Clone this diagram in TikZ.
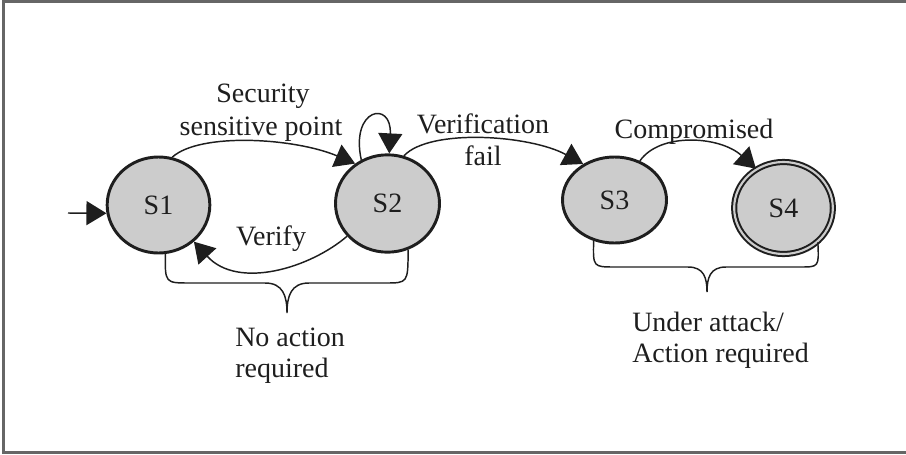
\documentclass[tikz,border=0pt]{standalone}
\usepackage{fontspec}
\setmainfont{Liberation Serif}
\usetikzlibrary{shapes.geometric,arrows.meta}
\definecolor{statefill}{HTML}{CCCCCC}
\definecolor{ink}{HTML}{1E1E1E}
\definecolor{framegray}{HTML}{666666}
\begin{document}
\begin{tikzpicture}[x=0.75pt,y=-0.75pt,
  lbl/.style={font=\fontsize{21}{24.5}\selectfont, text=ink, inner sep=0pt},
  state/.style={ellipse, draw=ink, fill=statefill, line width=2.2pt, inner sep=0pt,
    font=\fontsize{21}{24.5}\selectfont, text=ink},
  final/.style={state, line width=1.5pt, double=statefill, double distance=1.6pt},
  edge/.style={draw=ink, line width=1.1pt, -{Triangle[length=15pt,width=18pt]}},
  brace/.style={draw=ink, line width=1.1pt}]
\useasboundingbox (0,0) rectangle (906,454);
% frame
\draw[framegray, line width=1.6pt] (906,1.5) -- (3.5,1.5) -- (3.5,452.5) -- (906,452.5);

% states
\node[state, minimum width=77pt, minimum height=72pt] (s1) at (158.5,205) {S1};
\node[state, minimum width=78pt, minimum height=73pt] (s2) at (387.5,203.5) {S2};
\node[state, minimum width=78pt, minimum height=64.5pt] (s3) at (614.5,200) {S3};
\node[final, minimum width=74pt, minimum height=69pt] (s4) at (783.5,208) {S4};

% transitions
\coordinate (init) at (68,213);
\draw[edge] (init) -- (s1.189);
\draw[edge] (s1.74) .. controls (200,132) and (295,138) .. (s2.129);
\draw[edge] (s2.121) .. controls (350,108) and (392,100) .. (s2.88);
\draw[edge] (s2.71) .. controls (430,128) and (530,135) .. (s3.131);
\draw[edge] (s3.57) .. controls (660,132) and (720,136) .. (s4.125);
\draw[edge] (s2.219) .. controls (310,268) and (238,290) .. (s1.314);

% braces grouping the states
\draw[brace] (s1.278) .. controls (165,283) and (165,283) .. (190,283) -- (265,283)
  .. controls (283,283) and (287,296) .. (287,313)
  .. controls (287,296) and (291,283) .. (309,283) -- (385,283)
  .. controls (408,283) and (408,283) .. (s2.294);
\draw[brace] (s3.243) .. controls (593,267) and (593,267) .. (615,267) -- (688,267)
  .. controls (704,267) and (707,278) .. (707,292)
  .. controls (707,278) and (710,267) .. (726,267) -- (800,267)
  .. controls (819,267) and (819,267) .. (s4.315);

% labels
\node[lbl, anchor=base] (lsec1) at (263,102) {Security};
\node[lbl, anchor=base] (lsec2) at (261,135) {sensitive point};
\node[lbl, anchor=base] (lver1) at (483,133) {Verification};
\node[lbl, anchor=base] (lver2) at (483,165) {fail};
\node[lbl, anchor=base] (lcomp) at (694,138) {Compromised};
\node[lbl, anchor=base] (lverify) at (271,245) {Verify};
\node[lbl, anchor=base west] (lno1) at (235,346) {No action};
\node[lbl, anchor=base west] (lno2) at (235,377) {required};
\node[lbl, anchor=base west] (lund1) at (632,331) {Under attack/};
\node[lbl, anchor=base west] (lund2) at (632,362) {Action required};
\end{tikzpicture}
\end{document}
